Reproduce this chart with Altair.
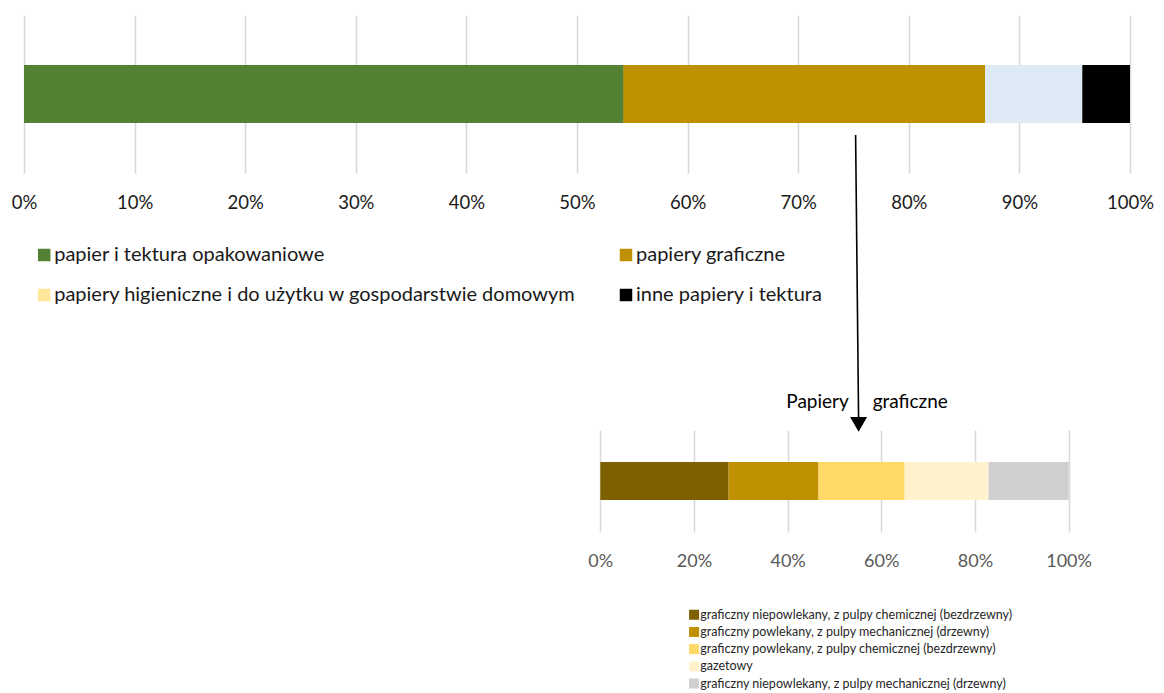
import altair as alt
import pandas as pd

# ---- data ----
top_categories = [
    "papier i tektura opakowaniowe",
    "papiery graficzne",
    "papiery higieniczne i do użytku w gospodarstwie domowym",
    "inne papiery i tektura",
]
top_values = [54.2, 32.7, 8.8, 4.3]
top_bar_colors = ["#548235", "#BF9000", "#DEEBF7", "#000000"]
top_legend_colors = ["#548235", "#BF9000", "#FFE699", "#000000"]
# legend is filled column by column: this order gives rows (1,2) and (3,4)
top_legend_order = [0, 2, 1, 3]

bottom_title = "Papiery\u00a0\u00a0\u00a0\u00a0\u00a0graficzne"
bottom_categories = [
    "graficzny niepowlekany, z pulpy chemicznej (bezdrzewny)",
    "graficzny powlekany, z pulpy mechanicznej (drzewny)",
    "graficzny powlekany, z pulpy chemicznej (bezdrzewny)",
    "gazetowy",
    "graficzny niepowlekany, z pulpy mechanicznej (drzewny)",
]
bottom_values = [27.4, 19.2, 18.4, 17.9, 17.1]
bottom_colors = ["#7F6000", "#BF9000", "#FFD966", "#FFF2CC", "#D0CECE"]

top_ticks = list(range(0, 101, 10))
bottom_ticks = list(range(0, 101, 20))

# arrow from the "papiery graficzne" segment down to the detail bar (in % of the top axis)
arrow_start = [75.19]
arrow_end = [75.46]

FONT = "Lato"

top_df = pd.DataFrame({
    "cat": top_categories,
    "value": top_values,
    "idx": list(range(len(top_categories))),
    "row": ["a"] * len(top_categories),
})
bottom_df = pd.DataFrame({
    "cat": bottom_categories,
    "value": bottom_values,
    "idx": list(range(len(bottom_categories))),
    "row": ["a"] * len(bottom_categories),
})

legend_domain = [top_categories[i] for i in top_legend_order]
legend_range = [top_legend_colors[i] for i in top_legend_order]

W = 1106

top_x = alt.X(
    "value:Q", stack="zero",
    scale=alt.Scale(domain=[0, 100], nice=False, zero=True),
    axis=alt.Axis(values=top_ticks, labelExpr="datum.value + '%'", title=None,
                  domain=False, ticks=False, tickSize=0, grid=True,
                  gridColor="#D9D9D9", gridWidth=1.6, labelFlush=False,
                  labelFont=FONT, labelFontSize=18.5, labelColor="#1a1a1a",
                  labelPadding=29, labelBaseline="middle"),
)
top_y = alt.Y("row:N", axis=None, title=None)

# layer used for the legend swatches (covered by the real bars)
top_legend_layer = alt.Chart(top_df).mark_bar(size=58).encode(
    x=top_x,
    y=top_y,
    order=alt.Order("idx:Q"),
    color=alt.Color(
        "cat:N",
        scale=alt.Scale(domain=legend_domain, range=legend_range),
        legend=alt.Legend(
            title=None, orient="none", legendX=10.2, legendY=230,
            columns=2, columnPadding=39.8, rowPadding=20,
            symbolType="square", symbolSize=156, symbolStrokeWidth=0,
            labelFont=FONT, labelFontSize=20, labelColor="#1a1a1a",
            labelOffset=0, labelLimit=700,
        ),
    ),
)
top_bars = alt.Chart(top_df).mark_bar(size=58).encode(
    x=top_x,
    y=top_y,
    order=alt.Order("idx:Q"),
    color=alt.Color(
        "cat:N",
        scale=alt.Scale(domain=top_categories, range=top_bar_colors),
        legend=None,
    ),
)

arrow_df = pd.DataFrame({"x0": arrow_start, "x1": arrow_end})
arrow_line = alt.Chart(arrow_df).mark_rule(color="black", strokeWidth=1.6).encode(
    x="x0:Q", x2="x1:Q", y=alt.value(120), y2=alt.value(404),
)
arrow_head = alt.Chart(arrow_df).mark_point(
    shape="triangle-down", filled=True, size=289, color="black", opacity=1
).encode(x="x1:Q", y=alt.value(409.3))

top_chart = alt.layer(top_legend_layer, top_bars, arrow_line, arrow_head).resolve_scale(
    color="independent"
).properties(width=W, height=158)

bottom_chart = alt.Chart(bottom_df).mark_bar(size=38).encode(
    x=alt.X(
        "value:Q", stack="zero",
        scale=alt.Scale(domain=[0, 100], nice=False, range=[576.3, 1044.6]),
        axis=alt.Axis(values=bottom_ticks, labelExpr="datum.value + '%'", title=None,
                      domain=False, ticks=False, tickSize=0, grid=True,
                      gridColor="#D9D9D9", gridWidth=1.6, labelFlush=False,
                      labelFont=FONT, labelFontSize=18, labelColor="#595959",
                      labelPadding=29, labelBaseline="middle"),
    ),
    y=alt.Y("row:N", axis=None, title=None),
    order=alt.Order("idx:Q"),
    color=alt.Color(
        "cat:N",
        scale=alt.Scale(domain=bottom_categories, range=bottom_colors),
        legend=alt.Legend(
            title=None, orient="none", legendX=663.8, legendY=178.5,
            direction="vertical", rowPadding=4.2,
            symbolType="square", symbolSize=100, symbolStrokeWidth=0,
            labelFont=FONT, labelFontSize=12.5, labelColor="#262626",
            labelOffset=0, labelLimit=500,
        ),
    ),
).properties(
    width=W, height=102,
    title=alt.TitleParams(bottom_title, anchor="start", dx=762.3, offset=18,
                          font=FONT, fontSize=19, fontWeight="normal", color="#000000"),
)

chart = alt.vconcat(top_chart, bottom_chart, spacing=257, bounds="flush").resolve_scale(
    color="independent"
).properties(
    padding={"left": 3, "top": 7, "right": 0, "bottom": 0},
).configure_view(stroke=None)

chart.save("out.html", embed_options={"renderer": "svg", "actions": False})
